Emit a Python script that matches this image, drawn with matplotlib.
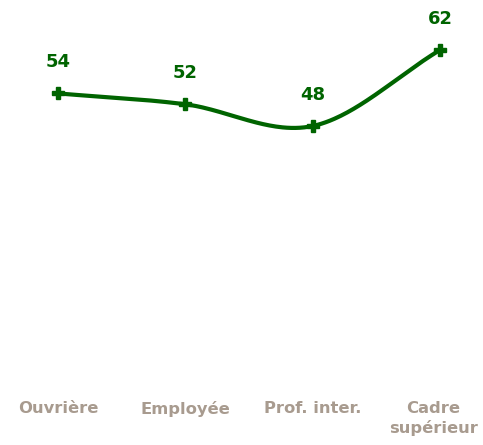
import numpy as np
import matplotlib.pyplot as plt
from matplotlib.transforms import ScaledTranslation

categories = ['Ouvrière', 'Employée', 'Prof. inter.', 'Cadre\nsupérieur']
values = [54, 52, 48, 62]

line_color = '#006400'
label_color = '#a89b8f'


def smooth_curve(xs, ys, steps=60):
    # cubic hermite, catmull-rom tangents inside, secant slope at the ends
    xs = np.asarray(xs, dtype=float)
    ys = np.asarray(ys, dtype=float)
    n = len(xs)
    s = np.diff(ys) / np.diff(xs)
    m = np.zeros(n)
    m[0] = s[0]
    m[-1] = s[-1]
    for i in range(1, n - 1):
        m[i] = (ys[i + 1] - ys[i - 1]) / (xs[i + 1] - xs[i - 1])
    px, py = [], []
    u = np.linspace(0, 1, steps)
    for i in range(n - 1):
        h = xs[i + 1] - xs[i]
        h00 = 2 * u ** 3 - 3 * u ** 2 + 1
        h10 = u ** 3 - 2 * u ** 2 + u
        h01 = -2 * u ** 3 + 3 * u ** 2
        h11 = u ** 3 - u ** 2
        y = h00 * ys[i] + h10 * h * m[i] + h01 * ys[i + 1] + h11 * h * m[i + 1]
        px.extend(xs[i] + u * h)
        py.extend(y)
    return px, py


x = np.arange(len(categories))

fig = plt.figure(figsize=(4.83, 4.45), dpi=100)
ax = fig.add_axes([0, 0.131, 1, 0.869])

sx, sy = smooth_curve(x, values)
ax.plot(sx, sy, color=line_color, linewidth=3, solid_capstyle='round')
ax.plot(x, values, linestyle='none', marker='P', markersize=9,
        color=line_color)

for xi, v in zip(x, values):
    ax.annotate(str(v), (xi, v), xytext=(0, 22.5), textcoords='offset points',
                ha='center', va='center', fontsize=13, fontweight='bold',
                color=line_color)

ax.set_xlim(-0.455, 3.337)
ax.set_ylim(0, 71.2)
ax.set_xticks(x)
ax.set_xticklabels(categories, fontsize=11.8, fontweight='bold',
                   color=label_color, linespacing=1.25)
ax.tick_params(axis='x', length=0, pad=10.5)
ax.set_yticks([])
for sp in ax.spines.values():
    sp.set_visible(False)

# last label is pushed left to stay inside the picture
last = ax.get_xticklabels()[-1]
last.set_transform(last.get_transform() + ScaledTranslation(-5 / 72, 0, fig.dpi_scale_trans))

fig.savefig('out.png', dpi=100)
